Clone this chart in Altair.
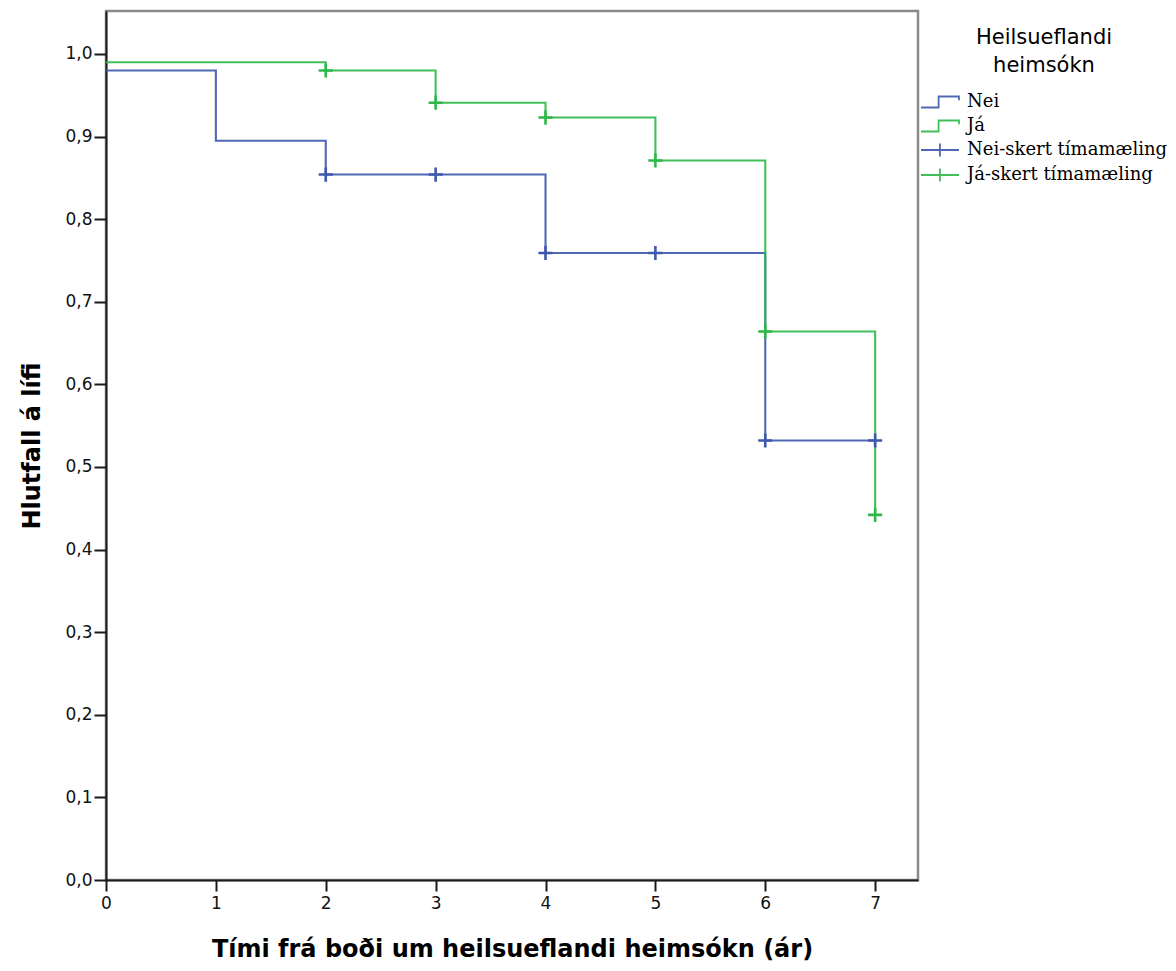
import altair as alt
import pandas as pd

# Kaplan-Meier step data
nei_time = [0, 1, 2, 4, 6, 7]
nei_surv = [0.98, 0.895, 0.854, 0.759, 0.532, 0.532]
ja_time = [0, 2, 3, 4, 5, 6, 7]
ja_surv = [0.99, 0.98, 0.941, 0.923, 0.871, 0.664, 0.442]

# Censored observations
nei_cens_time = [2, 3, 4, 5, 6, 7]
nei_cens_surv = [0.854, 0.854, 0.759, 0.759, 0.532, 0.532]
ja_cens_time = [2, 3, 4, 5, 6, 7]
ja_cens_surv = [0.98, 0.941, 0.923, 0.871, 0.664, 0.442]

legend_labels = ["Nei", "Já", "Nei-skert tímamæling", "Já-skert tímamæling"]
legend_colors = ["#3E58AC", "#2EB848", "#3E58AC", "#2EB848"]
x_ticks = [0, 1, 2, 3, 4, 5, 6, 7]
y_ticks = [0.0, 0.1, 0.2, 0.3, 0.4, 0.5, 0.6, 0.7, 0.8, 0.9, 1.0]

lines_df = pd.concat([
    pd.DataFrame({"t": nei_time, "s": nei_surv, "grp": "Nei"}),
    pd.DataFrame({"t": ja_time, "s": ja_surv, "grp": "Já"}),
])
cens_df = pd.concat([
    pd.DataFrame({"t": nei_cens_time, "s": nei_cens_surv, "grp": "Nei-skert tímamæling"}),
    pd.DataFrame({"t": ja_cens_time, "s": ja_cens_surv, "grp": "Já-skert tímamæling"}),
])

xscale = alt.Scale(domain=[0, 7.39], nice=False, zero=False)
yscale = alt.Scale(domain=[0, 1.052], nice=False)
cscale = alt.Scale(domain=legend_labels, range=legend_colors)

step_path = "M-1,0.5L0.6,0.5L0.6,-0.5L2.45,-0.5L2.45,-0.15"
cross_path = "M-1,0L2.45,0M0.72,-0.6L0.72,0.6"
sscale = alt.Scale(domain=legend_labels, range=[step_path, step_path, cross_path, cross_path])

xaxis = alt.Axis(values=x_ticks, format="d", title="Tími frá boði um heilsueflandi heimsókn (ár)",
                 grid=False, tickSize=11, labelPadding=4, titlePadding=26, labelFlush=False)
yaxis = alt.Axis(values=y_ticks, title="Hlutfall á lífi", grid=False, tickSize=12,
                 labelPadding=2, titlePadding=20, labelFlush=False,
                 labelExpr="replace(format(datum.value, '.1f'), '.', ',')")

legend = alt.Legend(
    title=["Heilsueflandi", "heimsókn"],
    orient="none", legendX=814, legendY=16,
    symbolSize=484, symbolStrokeWidth=1.8, symbolFillColor="transparent",
    labelFont="DejaVu Serif", labelFontSize=18, labelColor="#000", labelLimit=400,
    titleFont="DejaVu Sans", titleFontSize=21, titleFontWeight="normal",
    titleColor="#000", titleAnchor="middle", titleLineHeight=28, titlePadding=14,
    labelOffset=23, rowPadding=2,
)

lines = alt.Chart(lines_df).mark_line(interpolate="step-after", strokeWidth=2.1, opacity=0.9).encode(
    x=alt.X("t:Q", scale=xscale, axis=xaxis),
    y=alt.Y("s:Q", scale=yscale, axis=yaxis),
    color=alt.Color("grp:N", scale=cscale, legend=legend),
    detail="grp:N",
)

marks = alt.Chart(cens_df).mark_point(filled=False, strokeWidth=2.6, size=200, opacity=1,
                                      shape="M-1,0L1,0M0,-1L0,1").encode(
    x=alt.X("t:Q", scale=xscale),
    y=alt.Y("s:Q", scale=yscale),
    color=alt.Color("grp:N", scale=cscale, legend=legend),
)

legend_layer = alt.Chart(cens_df).transform_filter("false").mark_point(filled=False, opacity=1).encode(
    x=alt.X("t:Q", scale=xscale),
    y=alt.Y("s:Q", scale=yscale),
    color=alt.Color("grp:N", scale=cscale, legend=legend),
    shape=alt.Shape("grp:N", scale=sscale, legend=legend),
)

chart = alt.layer(lines, marks, legend_layer).properties(
    width=812, height=869,
    autosize=alt.AutoSizeParams(type="none"),
    padding={"left": 98, "top": 3, "right": 250, "bottom": 90},
).configure_view(
    stroke="#8a8a8a", strokeWidth=2.5
).configure_axis(
    domainColor="#1a1a1a", domainWidth=2, tickColor="#1a1a1a", tickWidth=2,
    labelFont="DejaVu Sans", labelFontSize=17, labelColor="#111",
    titleFont="DejaVu Sans", titleFontSize=24, titleFontWeight="bold", titleColor="#000",
)

chart.save("out.html", embed_options={"renderer": "svg", "actions": False})
